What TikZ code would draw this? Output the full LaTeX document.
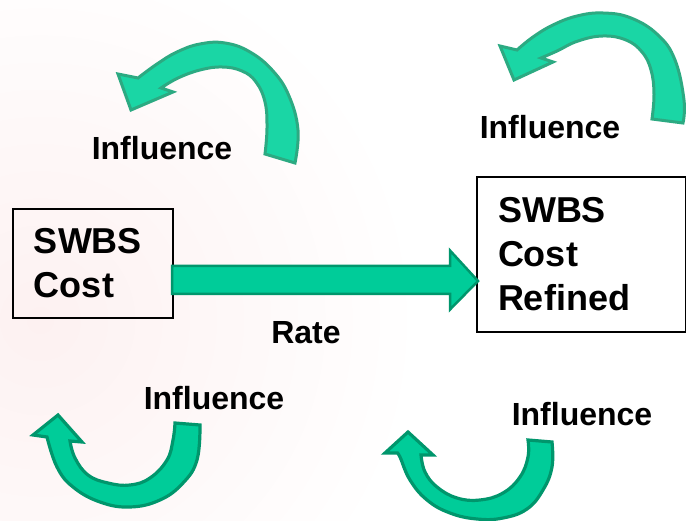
\documentclass[tikz,border=0pt]{standalone}
\usepackage{fontspec}
\setmainfont{Liberation Sans}
\usetikzlibrary{calc}
\definecolor{gfill}{RGB}{0,204,153}
\definecolor{gline}{RGB}{0,150,108}
\definecolor{tfill}{RGB}{26,214,165}
\definecolor{tline}{RGB}{44,170,130}
\definecolor{bgpink}{RGB}{253,241,241}
\begin{document}
\begin{tikzpicture}[x=1pt,y=-1pt,
  box/.style={draw=black,line width=2pt,anchor=north west,align=left,
    inner xsep=21pt,inner ysep=0pt,font=\fontsize{36}{44}\selectfont\bfseries},
  lbl/.style={font=\fontsize{32}{38}\selectfont\bfseries,inner sep=0pt},
  botarrow/.style={fill=gfill,draw=gline,line width=3.2pt,line join=miter},
  toparrow/.style={fill=tfill,draw=tline,line width=3pt,line join=miter},
  fatarrow/.style={fill=gfill,draw=gline,line width=2.5pt,line join=miter}]
\useasboundingbox (0,0) rectangle (686,521);
\fill[white] (0,0) rectangle (686,521);
\begin{scope}
\clip (0,0) rectangle (686,521);
\shade[inner color=bgpink,outer color=white] (40,320) circle (380);
\end{scope}

% boxes
\node[box,text width=118pt,minimum height=109pt] (b1) at (12,208) {SWBS\\Cost};
\node[box,fill=white,text width=167pt,minimum height=155pt] (b2) at (476,176) {SWBS\\Cost\\Refined};

% straight fat arrow from b1 to b2
\draw[fatarrow]
  ($(b1.east)+(-2,2.5)$) -- ($(b2.west)+(-26,11.5)$) -- ($(b2.west)+(-26,-4)$)
  -- ($(b2.west)+(2,26.5)$) -- ($(b2.west)+(-26,55)$) -- ($(b2.west)+(-26,39.5)$)
  -- ($(b1.east)+(-2,30.5)$) -- cycle;

% top-left curved arrow
\draw[toparrow]
  plot[smooth,tension=0.7] coordinates {(295,163) (298,130) (289,96) (273,71) (250,52) (225,43) (200,44) (177,52) (157,64) (138,78)}
  -- (118,74) -- (131,110) -- (173,92) -- (161,88)
  -- plot[smooth,tension=0.7] coordinates {(161,88) (178,78) (200,70) (222,67) (242,71) (256,82) (265,102) (267,128) (265,154)}
  -- cycle;

% top-right curved arrow
\draw[toparrow]
  plot[smooth,tension=0.7] coordinates {(683,123) (684,100) (675,60) (658,35) (631,18) (603,13) (577,16) (553,25) (533,37) (517,50)}
  -- (500,46) -- (514,80) -- (553,62) -- (541,58)
  -- plot[smooth,tension=0.7] coordinates {(541,58) (557,51) (578,41) (603,36) (626,40) (642,52) (651,70) (654,94) (652,119)}
  -- cycle;

% bottom-left curved arrow
\draw[botarrow]
  plot[smooth,tension=0.7] coordinates {(200,425) (197,460) (183,483) (160,500) (130,507) (100,502) (73,487) (57,467) (47,437)}
  -- (33,435) -- (58,415) -- (82,442) -- (70,441)
  -- plot[smooth,tension=0.7] coordinates {(70,441) (75,458) (88,475) (108,483) (130,485) (150,478) (167,460) (173,440) (175,423)}
  -- cycle;

% bottom-right curved arrow
\draw[botarrow]
  plot[smooth,tension=0.7] coordinates {(552,442) (552,467) (543,490) (527,509) (503,518) (477,519) (450,513) (427,500) (410,480) (400,457) (397,453)}
  -- (385,453) -- (408,432) -- (433,455) -- (421,455)
  -- plot[smooth,tension=0.7] coordinates {(421,455) (425,472) (437,487) (457,498) (480,500) (503,493) (520,477) (528,457) (528,440)}
  -- cycle;

% labels
\node[lbl] (i1) at (162,148) {Influence};
\node[lbl] (i2) at (550,127) {Influence};
\node[lbl] (i3) at (214,398) {Influence};
\node[lbl] (i4) at (582,414) {Influence};
\node[lbl] (rate) at (306,333) {Rate};
\end{tikzpicture}
\end{document}
